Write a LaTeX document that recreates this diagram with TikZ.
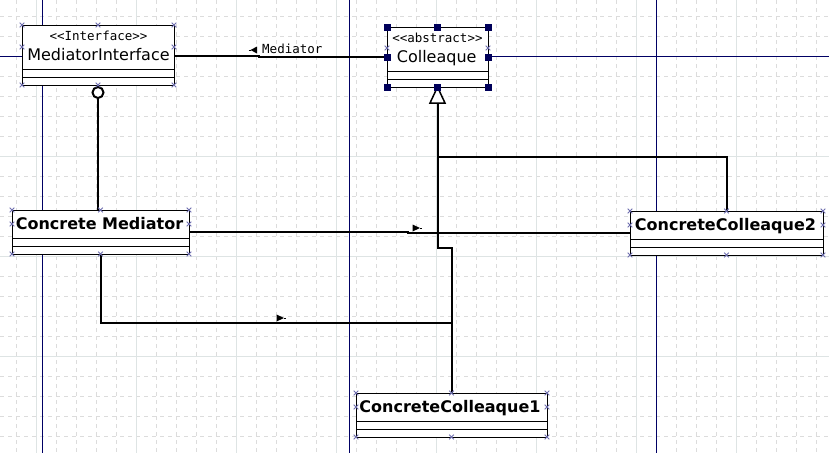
\documentclass[tikz,border=0pt]{standalone}
\usepackage{fontspec}
\setmainfont{DejaVu Sans}
\newfontfamily\monofam[Ligatures=TeXOff]{DejaVu Sans Mono}
\usetikzlibrary{calc}
\definecolor{navyline}{RGB}{0,0,100}
\definecolor{gridsolid}{RGB}{222,228,228}
\definecolor{griddash}{RGB}{220,220,220}
\definecolor{xmarkcol}{RGB}{110,110,175}
\definecolor{handlecol}{RGB}{0,0,90}
\newcommand\xmk[2]{\draw[xmark] ({#1-2.3},{#2-2.3}) -- ({#1+2.3},{#2+2.3}) ({#1-2.3},{#2+2.3}) -- ({#1+2.3},{#2-2.3});}
\begin{document}
\begin{tikzpicture}[x=1pt,y=-1pt,
  gminor/.style={draw=griddash, line width=1pt, dash pattern=on 4pt off 4pt},
  gmajor/.style={draw=gridsolid, line width=1pt},
  navy/.style={draw=navyline, line width=1pt},
  classbox/.style={draw=black, fill=white, line width=1pt, inner sep=0pt, outer sep=0pt, rectangle},
  sepline/.style={draw=black, line width=1pt},
  stereo/.style={font=\monofam\fontsize{12.5}{15}\selectfont, inner sep=0pt, anchor=base},
  nametext/.style={font=\fontsize{16}{19}\selectfont, inner sep=0pt, anchor=base},
  boldname/.style={font=\bfseries\fontsize{16}{19}\selectfont, inner sep=0pt, anchor=base},
  assoclabel/.style={font=\monofam\fontsize{12.5}{15}\selectfont, inner sep=0pt, anchor=base west},
  conn/.style={draw=black, line width=2pt},
  xmark/.style={draw=xmarkcol, line width=0.8pt},
  handle/.style={fill=handlecol}
]
\useasboundingbox (0,0) rectangle (829,453);
\fill[white] (0,0) rectangle (829,453);
\begin{scope}
\clip (0,0) rectangle (829,453);
\foreach \gx in {16,36,...,816} \draw[gminor] (\gx,0) -- (\gx,453);
\foreach \gy in {16,36,...,436} \draw[gminor] (0,\gy) -- (829,\gy);
\foreach \gx in {36,136,...,736} \draw[gmajor] (\gx,0) -- (\gx,453);
\foreach \gy in {56,156,256,356} \draw[gmajor] (0,\gy) -- (829,\gy);
\draw[navy] (42.3,0) -- (42.3,453);
\draw[navy] (349,0) -- (349,453);
\draw[navy] (656.7,0) -- (656.7,453);
\draw[navy] (0,56.5) -- (829,56.5);
\end{scope}

% boxes
\node[classbox, minimum width=152pt, minimum height=60pt] (mi) at (98,55) {};
\node[classbox, minimum width=101pt, minimum height=60pt] (col) at (437.5,57) {};
\node[classbox, minimum width=177pt, minimum height=44pt] (cm) at (100.5,232) {};
\node[classbox, minimum width=193pt, minimum height=44pt] (cc2) at (726.5,233) {};
\node[classbox, minimum width=191pt, minimum height=44pt] (cc1) at (451.5,415) {};

% compartments
\foreach \b/\h in {mi/44, col/44, cm/28, cc2/28, cc1/28} {
  \draw[sepline] ($(\b.north west)+(0,\h)$) -- ($(\b.north east)+(0,\h)$);
  \draw[sepline] ($(\b.north west)+(0,\h+8)$) -- ($(\b.north east)+(0,\h+8)$);
}

% texts
\node[stereo] (mist) at (98.5,40.7) {<<Interface>>};
\node[nametext] (miname) at (98.5,60) {MediatorInterface};
\node[stereo] (colst) at (437.4,42.7) {<<abstract>>};
\node[nametext] (colname) at (436.7,62.7) {Colleaque};
\node[boldname] (cmname) at (99.5,229.3) {Concrete Mediator};
\node[boldname] (cc2name) at (725.5,230) {ConcreteColleaque2};
\node[boldname] (cc1name) at (450,412.3) {ConcreteColleaque1};

% interface lollipop
\node[circle, draw=black, line width=2pt, fill=white, minimum size=11pt, inner sep=0pt] (lol) at (98,92.5) {};
\draw[conn] (lol.south) -- (lol.south |- cm.north);

% association MediatorInterface - Colleaque
\coordinate (bend1) at (259,56);
\draw[conn] ($(mi.east)+(0,1)$) -- (bend1) |- (col.west);
\node[assoclabel] (medlabel) at (262,53) {Mediator};
\fill (250.5,50) -- (257,46.5) -- (257,53.5) -- cycle;
\draw[line width=1pt] (248.5,50) -- (250.5,50);

% generalizations
\coordinate (gbase) at ($(col.south)+(0,16)$);
\draw[conn] (cc1.north) |- (437.5,248) -- (gbase);
\draw[conn] (cc2.north) |- (437.5,157);
\draw[black, line width=1.5pt, fill=white, line join=miter] (col.south) -- ($(gbase)+(7.5,0)$) -- ($(gbase)+(-7.5,0)$) -- cycle;

% associations from Concrete Mediator
\coordinate (bend2) at (408,232);
\draw[conn] (cm.east) -- (bend2) |- (cc2.west);
\fill (412.5,224.5) -- (420,228) -- (412.5,231.5) -- cycle;
\draw[line width=1pt] (420,228) -- (422,228);
\coordinate (bend3) at (451.5,322.5);
\draw[conn] (cm.south) |- (bend3) -- (cc1.north);
\fill (276.5,314.5) -- (284,318) -- (276.5,321.5) -- cycle;
\draw[line width=1pt] (284,318) -- (286,318);

% selection marks
\foreach \px/\py in {22/25, 98/25, 174/25, 22/47, 174/47, 22/85, 98/85, 174/85,
  387/48, 488/48,
  12/210, 100.5/210, 189/210, 12/224, 189/224, 12/254, 100.5/254, 189/254,
  630/211, 726.5/211, 823/211, 630/225, 823/225, 630/255, 726.5/255, 823/255,
  356/393, 451.5/393, 547/393, 356/407, 547/407, 356/437, 451.5/437, 547/437}
  {\xmk{\px}{\py}}
\foreach \p in {north west, north, north east, west, east, south west, south, south east}
  \fill[handle] ($(col.\p)+(-3.5,-3.5)$) rectangle ++(7,7);
\end{tikzpicture}
\end{document}
